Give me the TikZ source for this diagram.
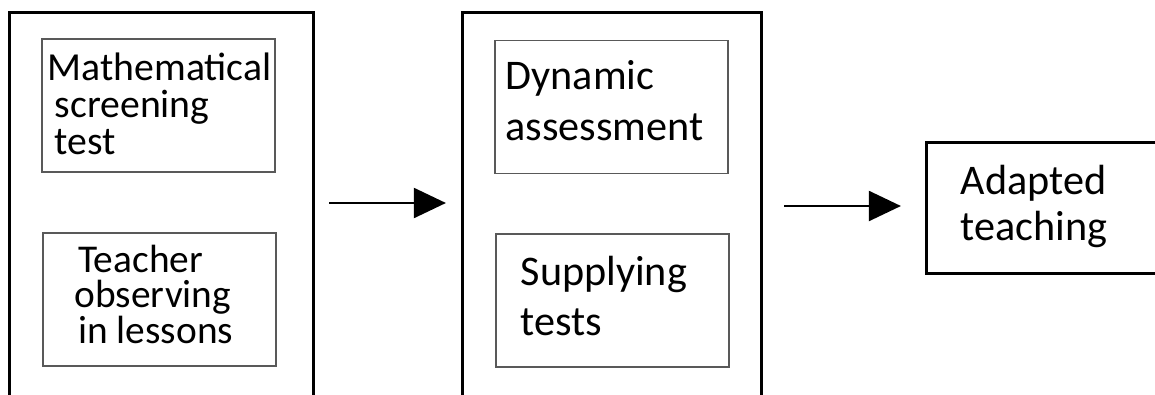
\documentclass[tikz,border=0pt]{standalone}
\usepackage{fontspec}
\setmainfont{Carlito}
\usetikzlibrary{arrows.meta}

\begin{document}
\begin{tikzpicture}[x=0.01cm,y=-0.01cm,
  outer/.style={shape=rectangle,draw=black,line width=0.85pt,outer sep=0pt},
  inner/.style={shape=rectangle,draw=black!65,line width=0.4pt,outer sep=0pt,minimum width=2.33cm,minimum height=1.33cm},
  txt/.style={align=left,inner sep=0pt,anchor=base west},
  flow/.style={-{Triangle[length=0.32cm,width=0.30cm]},draw=black,line width=0.6pt}]
\useasboundingbox (0,0) rectangle (1155,394);
\clip (0,0) rectangle (1155,394);

\node[outer,minimum width=3.03cm,minimum height=4.07cm] (0) at (161.5,216.5) {};
\node[outer,minimum width=2.98cm,minimum height=4.07cm] (1) at (612,216.5) {};
\node[outer,minimum width=2.48cm,minimum height=1.30cm] (2) at (1051,208) {};

\node[inner] (3) at (158.5,105.5) {};
\node[inner] (4) at (159.5,299.5) {};
\node[inner] (5) at (611.5,107) {};
\node[inner] (6) at (612.5,300.5) {};

\node[txt,font=\fontsize{11.3}{10.4}\selectfont] (7) at (47,154) {Mathematical\\\hspace*{2pt}screening\\\hspace*{2pt}test};
\node[txt,font=\fontsize{11.2}{10}\selectfont] (8) at (74,343) {\hspace*{1pt}Teacher\\observing\\\hspace*{1pt}in lessons};
\node[txt,font=\fontsize{12}{14.5}\selectfont] (9) at (505,140) {Dynamic\\assessment};
\node[txt,font=\fontsize{12}{14.2}\selectfont] (10) at (520,335) {Supplying\\tests};
\node[txt,font=\fontsize{12}{12.8}\selectfont] (11) at (960,240) {Adapted\\teaching};

\draw[flow,shorten <=0.16cm,shorten >=0.17cm] (0.east |- 0,203) -- (1.west |- 0,203);
\draw[flow,shorten <=0.23cm,shorten >=0.26cm] (1.east |- 0,206) -- (2.west |- 0,206);
\end{tikzpicture}
\end{document}
